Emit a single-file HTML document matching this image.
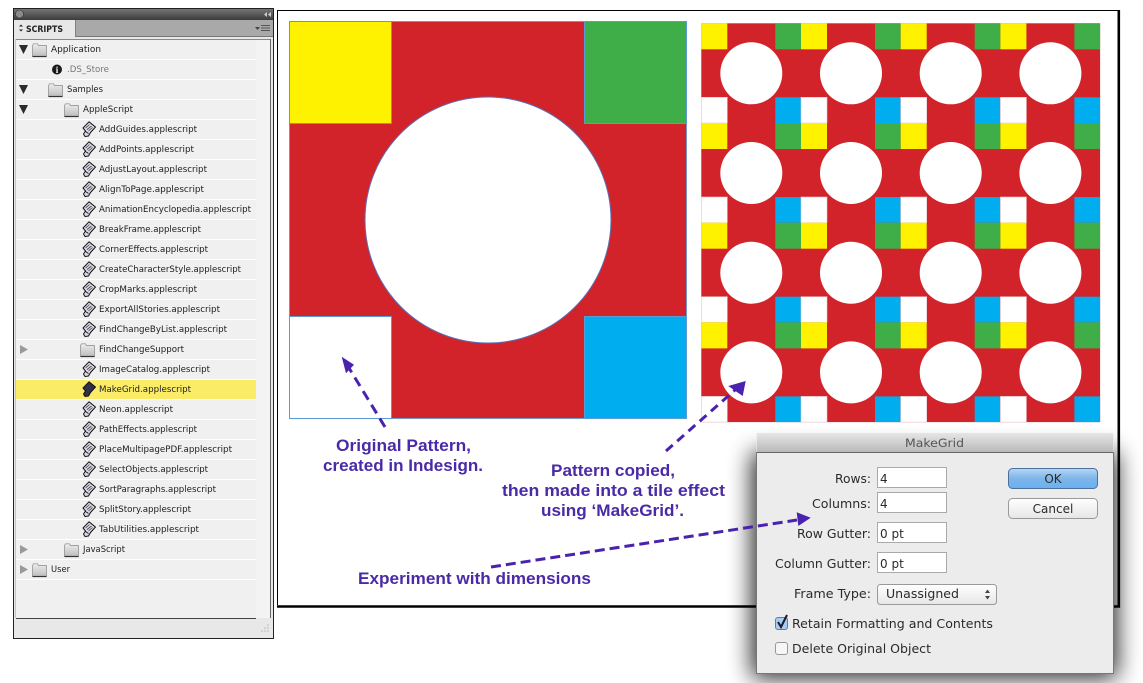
<!DOCTYPE html>
<html><head><meta charset="utf-8"><title>MakeGrid</title>
<style>
html,body{margin:0;padding:0;background:#fff;width:1143px;height:683px;overflow:hidden}
svg{display:block}
.p text{font-family:"DejaVu Sans",sans-serif;font-size:9px;fill:#1c1c1c}
.c{font-family:"Liberation Sans",sans-serif;font-size:17px;font-weight:bold;fill:#4a2aa6}
.d{font-family:"DejaVu Sans",sans-serif;font-size:12px;fill:#2a2a2a}
</style></head><body>
<svg width="1143" height="683" viewBox="0 0 1143 683" xmlns="http://www.w3.org/2000/svg">
<defs>
<linearGradient id="tb" x1="0" y1="0" x2="0" y2="1"><stop offset="0" stop-color="#757575"/><stop offset="1" stop-color="#3c3c3c"/></linearGradient>
<linearGradient id="dt" x1="0" y1="0" x2="0" y2="1"><stop offset="0" stop-color="#e6e6e6"/><stop offset="1" stop-color="#b9b9b9"/></linearGradient>
<linearGradient id="ok" x1="0" y1="0" x2="0" y2="1"><stop offset="0" stop-color="#b5d6f5"/><stop offset=".5" stop-color="#7fb5ea"/><stop offset="1" stop-color="#69b0f0"/></linearGradient>
<linearGradient id="bt" x1="0" y1="0" x2="0" y2="1"><stop offset="0" stop-color="#fff"/><stop offset="1" stop-color="#e6e6e6"/></linearGradient>
<linearGradient id="fo" x1="0" y1="0" x2="0" y2="1"><stop offset="0" stop-color="#ececec"/><stop offset="1" stop-color="#bdbdbd"/></linearGradient>
<filter id="sh" x="-30%" y="-30%" width="160%" height="160%"><feGaussianBlur stdDeviation="12"/></filter>
<g id="folder"><path d="M.5 2.500 L1.500 .8 H5.500 L6.500 2.500 H14.500 V13.500 H.5Z" fill="url(#fo)" stroke="#888" stroke-width=".7"/><path d="M.5 13.500 H14.500" stroke="#333" stroke-width="1.200"/></g>
<g id="sc"><path d="M7 .8 L13.500 6 L8.500 11.500 L6.500 15 L3 15.500 L1.500 13 L3.500 10 L1 7Z" fill="#dcd8e6" stroke="#111" stroke-width="1" stroke-linejoin="round"/><path d="M3.500 7 L7.500 3.500 M5 8.500 L9.500 5 M6.500 10 L10.500 6.500" stroke="#444" stroke-width=".8"/><path d="M3.500 10.500 L6.500 12.500" stroke="#111" stroke-width=".9"/></g>
<g id="scd"><path d="M7 .8 L13.500 6 L8.500 11.500 L6.500 15 L3 15.500 L1.500 13 L3.500 10 L1 7Z" fill="#33304a" stroke="#111" stroke-width="1" stroke-linejoin="round"/></g>
<g id="tile">
<rect width="26" height="26" fill="#fff200"/>
<rect x="74" width="25.700" height="26" fill="#3fae49"/>
<rect y="74" width="26" height="25.700" fill="#fff" stroke="#e5c4c8" stroke-width=".6"/>
<rect x="74" y="74" width="25.700" height="25.700" fill="#00aeef"/>
<circle cx="50" cy="50" r="31" fill="#fff"/>
</g>
</defs>

<!-- scripts panel -->
<rect x="13.500" y="8.500" width="260" height="630" fill="#e8e8e8" stroke="#222"/>
<rect x="14" y="9" width="259" height="11" fill="url(#tb)"/>
<circle cx="19.500" cy="14" r="4" fill="#8a8a8a" stroke="#333" stroke-width=".6"/>
<path d="M267 12 L264 14.500 L267 17Z M271 12 L268 14.500 L271 17Z" fill="#ccc"/>
<rect x="14" y="20" width="259" height="17" fill="#a9a9a9"/>
<rect x="14" y="20" width="61" height="18" fill="#e8e8e8"/>
<path d="M75.500 20V37" stroke="#666" stroke-width=".6"/>
<path d="M75 36.500H273" stroke="#777"/>
<path d="M19 26.500L21 24.500L23 26.500ZM19 29.500L21 31.500L23 29.500Z" fill="#222"/>
<text x="26" y="32" font-family="'DejaVu Sans',sans-serif" font-size="9" font-weight="bold" fill="#222" textLength="37" lengthAdjust="spacingAndGlyphs">SCRIPTS</text>
<path d="M255 27H260L257.500 30Z" fill="#444"/>
<path d="M261 25.500H270M261 28H270M261 30.500H270" stroke="#555"/>
<rect x="16" y="39" width="240" height="579" fill="#f0f0f0"/>
<rect x="256" y="39" width="14" height="579" fill="#f3f3f3"/>
<path d="M270.500 39V618" stroke="#666" stroke-width="1"/>
<path d="M15.500 39V618" stroke="#c4c4c4" stroke-width="1"/>
<path d="M16 39.500H270" stroke="#888"/>
<path d="M16 59.500H256M16 79.500H256M16 99.500H256M16 119.500H256M16 139.500H256M16 159.500H256M16 179.500H256M16 199.500H256M16 219.500H256M16 239.500H256M16 259.500H256M16 279.500H256M16 299.500H256M16 319.500H256M16 339.500H256M16 359.500H256M16 379.500H256M16 399.500H256M16 419.500H256M16 439.500H256M16 459.500H256M16 479.500H256M16 499.500H256M16 519.500H256M16 539.500H256M16 559.500H256M16 579.500H256" stroke="#fff"/>
<rect x="16" y="380" width="240" height="19" fill="#fbec68"/>
<path d="M16 618.500H256" stroke="#444"/>
<g fill="#999"><circle cx="262" cy="631" r=".6"/><circle cx="265" cy="631" r=".6"/><circle cx="268" cy="631" r=".6"/><circle cx="265" cy="628" r=".6"/><circle cx="268" cy="628" r=".6"/><circle cx="268" cy="625" r=".6"/></g>

<!-- triangles -->
<g fill="#2a2a2a"><path d="M19 45H28L23.500 54Z M19 85H28L23.500 94Z M19 105H28L23.500 114Z"/></g>
<g fill="#999"><path d="M20 345L28 349.500L20 354Z M20 545L28 549.500L20 554Z M20 565L28 569.500L20 574Z"/></g>

<!-- folders -->
<use href="#folder" x="32" y="43"/><use href="#folder" x="48" y="83"/><use href="#folder" x="64" y="103"/><use href="#folder" x="80" y="343"/><use href="#folder" x="64" y="543"/><use href="#folder" x="32" y="563"/>
<circle cx="57" cy="69.500" r="5" fill="#1a1a1a"/><text x="57" y="73" text-anchor="middle" font-family="'Liberation Serif',serif" font-weight="bold" font-size="9" fill="#fff">i</text>

<!-- script icons -->
<use href="#sc" x="82" y="121"/><use href="#sc" x="82" y="141"/><use href="#sc" x="82" y="161"/><use href="#sc" x="82" y="181"/><use href="#sc" x="82" y="201"/><use href="#sc" x="82" y="221"/><use href="#sc" x="82" y="241"/><use href="#sc" x="82" y="261"/><use href="#sc" x="82" y="281"/><use href="#sc" x="82" y="301"/><use href="#sc" x="82" y="321"/><use href="#sc" x="82" y="361"/><use href="#scd" x="82" y="381"/><use href="#sc" x="82" y="401"/><use href="#sc" x="82" y="421"/><use href="#sc" x="82" y="441"/><use href="#sc" x="82" y="461"/><use href="#sc" x="82" y="481"/><use href="#sc" x="82" y="501"/><use href="#sc" x="82" y="521"/>

<g class="p">
<text x="51" y="52" textLength="50" lengthAdjust="spacingAndGlyphs">Application</text>
<text x="67" y="72" textLength="42" lengthAdjust="spacingAndGlyphs" style="fill:#777">.DS_Store</text>
<text x="67" y="92" textLength="36" lengthAdjust="spacingAndGlyphs">Samples</text>
<text x="83" y="112" textLength="50" lengthAdjust="spacingAndGlyphs">AppleScript</text>
<text x="99" y="132" textLength="98" lengthAdjust="spacingAndGlyphs">AddGuides.applescript</text>
<text x="99" y="152" textLength="95" lengthAdjust="spacingAndGlyphs">AddPoints.applescript</text>
<text x="99" y="172" textLength="108" lengthAdjust="spacingAndGlyphs">AdjustLayout.applescript</text>
<text x="99" y="192" textLength="105" lengthAdjust="spacingAndGlyphs">AlignToPage.applescript</text>
<text x="99" y="212" textLength="152" lengthAdjust="spacingAndGlyphs">AnimationEncyclopedia.applescript</text>
<text x="99" y="232" textLength="102" lengthAdjust="spacingAndGlyphs">BreakFrame.applescript</text>
<text x="99" y="252" textLength="109" lengthAdjust="spacingAndGlyphs">CornerEffects.applescript</text>
<text x="99" y="272" textLength="142" lengthAdjust="spacingAndGlyphs">CreateCharacterStyle.applescript</text>
<text x="99" y="292" textLength="98" lengthAdjust="spacingAndGlyphs">CropMarks.applescript</text>
<text x="99" y="312" textLength="121" lengthAdjust="spacingAndGlyphs">ExportAllStories.applescript</text>
<text x="99" y="332" textLength="128" lengthAdjust="spacingAndGlyphs">FindChangeByList.applescript</text>
<text x="99" y="352" textLength="85" lengthAdjust="spacingAndGlyphs">FindChangeSupport</text>
<text x="99" y="372" textLength="111" lengthAdjust="spacingAndGlyphs">ImageCatalog.applescript</text>
<text x="99" y="392" textLength="92" lengthAdjust="spacingAndGlyphs">MakeGrid.applescript</text>
<text x="99" y="412" textLength="74" lengthAdjust="spacingAndGlyphs">Neon.applescript</text>
<text x="99" y="432" textLength="98" lengthAdjust="spacingAndGlyphs">PathEffects.applescript</text>
<text x="99" y="452" textLength="133" lengthAdjust="spacingAndGlyphs">PlaceMultipagePDF.applescript</text>
<text x="99" y="472" textLength="109" lengthAdjust="spacingAndGlyphs">SelectObjects.applescript</text>
<text x="99" y="492" textLength="117" lengthAdjust="spacingAndGlyphs">SortParagraphs.applescript</text>
<text x="99" y="512" textLength="92" lengthAdjust="spacingAndGlyphs">SplitStory.applescript</text>
<text x="99" y="532" textLength="100" lengthAdjust="spacingAndGlyphs">TabUtilities.applescript</text>
<text x="83" y="552" textLength="42" lengthAdjust="spacingAndGlyphs">JavaScript</text>
<text x="51" y="572" textLength="19" lengthAdjust="spacingAndGlyphs">User</text>
</g>

<!-- page frame -->
<rect x="278" y="11" width="841" height="594.500" fill="#fff"/>
<path d="M277.500 605V10.500H1118" fill="none" stroke="#000"/>
<path d="M1118.800 10V606.500H277" fill="none" stroke="#000" stroke-width="2.600"/>

<!-- original pattern -->
<rect x="289.500" y="21.500" width="397" height="397" fill="#d2232a" stroke="#5b9bd5" stroke-width=".8"/>
<rect x="289.500" y="21.500" width="102" height="102" fill="#fff200" stroke="#5b9bd5"/>
<rect x="584.500" y="21.500" width="102" height="102" fill="#3fae49" stroke="#5b9bd5"/>
<rect x="289.500" y="316.500" width="102" height="102" fill="#fff" stroke="#5b9bd5"/>
<rect x="584.500" y="316.500" width="102" height="102" fill="#00aeef" stroke="#5b9bd5"/>
<circle cx="488" cy="220" r="123" fill="#fff" stroke="#5b6fb5" stroke-width="1"/>

<!-- tiled pattern -->
<rect x="701.300" y="23.300" width="398.800" height="398.800" fill="#d2232a"/>
<use href="#tile" x="701.300" y="23.300"/><use href="#tile" x="801" y="23.300"/><use href="#tile" x="900.700" y="23.300"/><use href="#tile" x="1000.400" y="23.300"/>
<use href="#tile" x="701.300" y="123"/><use href="#tile" x="801" y="123"/><use href="#tile" x="900.700" y="123"/><use href="#tile" x="1000.400" y="123"/>
<use href="#tile" x="701.300" y="222.700"/><use href="#tile" x="801" y="222.700"/><use href="#tile" x="900.700" y="222.700"/><use href="#tile" x="1000.400" y="222.700"/>
<use href="#tile" x="701.300" y="322.400"/><use href="#tile" x="801" y="322.400"/><use href="#tile" x="900.700" y="322.400"/><use href="#tile" x="1000.400" y="322.400"/>

<!-- captions -->
<text class="c" x="336" y="451" textLength="135" lengthAdjust="spacingAndGlyphs">Original Pattern,</text>
<text class="c" x="323" y="471" textLength="160" lengthAdjust="spacingAndGlyphs">created in Indesign.</text>
<text class="c" x="551" y="476" textLength="124" lengthAdjust="spacingAndGlyphs">Pattern copied,</text>
<text class="c" x="502" y="496" textLength="223" lengthAdjust="spacingAndGlyphs">then made into a tile effect</text>
<text class="c" x="541" y="516" textLength="143" lengthAdjust="spacingAndGlyphs">using ‘MakeGrid’.</text>
<text class="c" x="358" y="584" textLength="233" lengthAdjust="spacingAndGlyphs">Experiment with dimensions</text>

<!-- dialog shadow -->
<rect x="752" y="452" width="365" height="226" fill="#000" opacity=".85" filter="url(#sh)"/>

<!-- dialog -->
<rect x="756.500" y="433.500" width="357" height="240" fill="#ececec"/>
<path d="M756.500 452V673.500H1113.500V452" fill="none" stroke="#777"/>
<rect x="757" y="433" width="356" height="19" fill="url(#dt)"/>
<path d="M757 452.500H1113" stroke="#666"/>
<text x="905" y="447" font-family="'DejaVu Sans',sans-serif" font-size="11.500" fill="#555" textLength="59" lengthAdjust="spacingAndGlyphs">MakeGrid</text>

<g class="d">
<text x="835" y="483" textLength="36" lengthAdjust="spacingAndGlyphs">Rows:</text>
<text x="812" y="508" textLength="59" lengthAdjust="spacingAndGlyphs">Columns:</text>
<text x="797" y="538" textLength="74" lengthAdjust="spacingAndGlyphs">Row Gutter:</text>
<text x="775" y="568" textLength="96" lengthAdjust="spacingAndGlyphs">Column Gutter:</text>
<text x="794" y="598" textLength="77" lengthAdjust="spacingAndGlyphs">Frame Type:</text>
</g>
<g fill="#fff" stroke="#aaa">
<rect x="877.500" y="467.500" width="69" height="20"/>
<rect x="877.500" y="492.500" width="69" height="20"/>
<rect x="877.500" y="522.500" width="69" height="20"/>
<rect x="877.500" y="552.500" width="69" height="20"/>
</g>
<rect x="877.500" y="584.500" width="119" height="20" rx="3" fill="url(#bt)" stroke="#999"/>
<path d="M985 593L987.500 589.500L990 593ZM985 596L987.500 599.500L990 596Z" fill="#444"/>
<g class="d">
<text x="880" y="483">4</text>
<text x="880" y="508">4</text>
<text x="880" y="538">0 pt</text>
<text x="880" y="568">0 pt</text>
<text x="886" y="598" textLength="73" lengthAdjust="spacingAndGlyphs">Unassigned</text>
<text x="792" y="628" textLength="201" lengthAdjust="spacingAndGlyphs">Retain Formatting and Contents</text>
<text x="792" y="653" textLength="139" lengthAdjust="spacingAndGlyphs">Delete Original Object</text>
</g>
<rect x="1008.500" y="468.500" width="89" height="20" rx="4" fill="url(#ok)" stroke="#4d6f9c"/>
<text x="1053" y="483" text-anchor="middle" class="d">OK</text>
<rect x="1008.500" y="498.500" width="89" height="20" rx="4" fill="url(#bt)" stroke="#999"/>
<text x="1053" y="513" text-anchor="middle" class="d">Cancel</text>
<rect x="775.500" y="617.500" width="12" height="12" rx="2.500" fill="#a9cdf0" stroke="#5b7ea8"/>
<path d="M778 622L781 627L787 615" fill="none" stroke="#1a1a2a" stroke-width="2"/>
<rect x="775.500" y="642.500" width="12" height="12" rx="2.500" fill="#f6f6f6" stroke="#999"/>

<!-- arrows -->
<g stroke="#4a22ad" stroke-width="3" fill="none">
<path d="M385 427L349 368" stroke-dasharray="10 6"/>
<path d="M666 451L735 390" stroke-dasharray="9 6"/>
<path d="M491 567L797 520" stroke-dasharray="10 5"/>
</g>
<g fill="#4a22ad">
<path d="M341.700 356.700L354 364.700L346 373.300Z"/>
<path d="M745.700 381L742.700 396L728.300 386Z"/>
<path d="M810.700 517.700L798.300 526L796.700 512.300Z"/>
</g>
</svg>
</body></html>
